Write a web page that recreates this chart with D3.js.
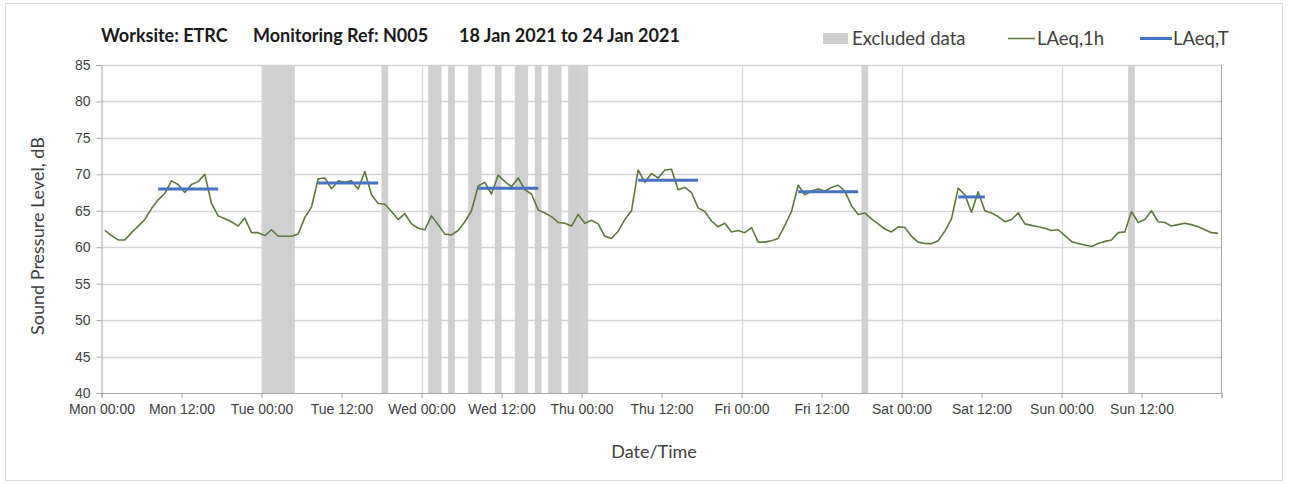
<!DOCTYPE html>
<html><head><meta charset="utf-8">
<script src="https://cdn.jsdelivr.net/npm/d3@7"></script>
<style>body{margin:0;background:#fff}svg{display:block;font-family:Lato,"Open Sans",sans-serif}</style>
</head><body><svg id="c" width="1290" height="484"></svg>
<script>
const tickLabels=["Mon 00:00","Mon 12:00","Tue 00:00","Tue 12:00","Wed 00:00","Wed 12:00","Thu 00:00","Thu 12:00","Fri 00:00","Fri 12:00","Sat 00:00","Sat 12:00","Sun 00:00","Sun 12:00"];
const yTicks=[40,45,50,55,60,65,70,75,80,85];
const laeq1h=[62.3,61.6,61.0,61.0,62.0,62.9,63.8,65.3,66.5,67.4,69.1,68.6,67.5,68.6,69.0,70.0,66.0,64.3,63.9,63.5,62.9,64.0,62.0,62.0,
61.6,62.4,61.5,61.5,61.5,61.8,64.1,65.5,69.4,69.5,68.0,69.1,68.9,69.1,68.0,70.4,67.2,66.0,65.9,64.9,63.8,64.6,63.2,62.6,
62.4,64.3,63.1,61.8,61.7,62.3,63.5,65.0,68.4,68.9,67.3,69.9,69.0,68.3,69.5,67.9,67.3,65.1,64.7,64.2,63.4,63.3,62.9,64.5,
63.3,63.7,63.2,61.5,61.2,62.2,63.8,65.0,70.6,68.9,70.1,69.5,70.6,70.7,67.9,68.2,67.5,65.4,64.9,63.6,62.8,63.3,62.1,62.3,
62.0,62.7,60.7,60.7,60.9,61.2,63.0,64.9,68.5,67.2,67.7,68.0,67.7,68.2,68.5,67.7,65.7,64.5,64.7,63.9,63.2,62.5,62.1,62.8,
62.7,61.5,60.7,60.5,60.5,60.9,62.2,63.9,68.1,67.2,64.8,67.6,65.0,64.7,64.2,63.5,63.8,64.7,63.2,63.0,62.8,62.6,62.3,62.4,
61.6,60.8,60.5,60.3,60.1,60.5,60.8,61.0,62.0,62.1,64.9,63.4,63.8,65.0,63.5,63.4,62.9,63.1,63.3,63.1,62.8,62.4,62.0,61.9];
const exclStart=[24,42,49,52,55,59,62,65,67,70,114,154];
const exclEnd=[29,43,51,53,57,60,64,66,69,73,115,155];
const tStart=[8,32,56,80,104,128];
const tEnd=[17,41,65,89,113,132];
const tValue=[68.0,68.8,68.1,69.2,67.6,66.9];

const svg=d3.select("#c");
const L=101.5,R=1221.5,T=65,B=393;
const x=d3.scaleLinear().domain([0,168]).range([L,R]);
const y=d3.scaleLinear().domain([40,85]).range([B,T]);

svg.append("rect").attr("x",5.5).attr("y",3.5).attr("width",1277).attr("height",477)
  .attr("fill","none").attr("stroke","#d9d9d9");

// excluded bands
svg.append("g").selectAll("rect").data(exclStart).join("rect")
  .attr("x",(d)=>x(d)).attr("width",(d,i)=>x(exclEnd[i])-x(d))
  .attr("y",T).attr("height",B-T).attr("fill","#d0d0d0");

// gridlines
svg.append("g").selectAll("line").data(yTicks.filter(v=>v>40)).join("line")
  .attr("x1",L).attr("x2",R).attr("y1",d=>Math.round(y(d))+0.5).attr("y2",d=>Math.round(y(d))+0.5)
  .attr("stroke","#cfcfcf").attr("stroke-opacity",0.9).attr("stroke-width",1.5);
svg.append("g").selectAll("line").data(d3.range(24,168,24)).join("line")
  .attr("y1",T).attr("y2",B).attr("x1",d=>Math.round(x(d))+0.5).attr("x2",d=>Math.round(x(d))+0.5)
  .attr("stroke","#d9d9d9").attr("stroke-opacity",0.9).attr("stroke-width",1.3);
// right border
svg.append("line").attr("x1",R).attr("x2",R).attr("y1",T).attr("y2",B).attr("stroke","#a6a6a6");

// axes
const yAxis=d3.axisLeft(y).tickValues(yTicks).tickSize(5).tickPadding(6);
const gy=svg.append("g").attr("transform",`translate(${L},0)`).call(yAxis);
gy.select(".domain").attr("stroke","#a6a6a6");
gy.selectAll(".tick line").attr("stroke","#a6a6a6");
gy.selectAll("text").attr("font-size",14).attr("fill","#404040");

const xAxis=d3.axisBottom(x).tickValues(d3.range(0,169,12)).tickSize(5).tickPadding(6)
  .tickFormat((d,i)=>tickLabels[i]||"");
const gx=svg.append("g").attr("transform",`translate(0,${B})`).call(xAxis);
gx.select(".domain").attr("stroke","#a6a6a6");
gx.selectAll(".tick line").attr("stroke","#a6a6a6");
gx.selectAll("text").attr("font-size",14).attr("fill","#404040");

// line
const line=d3.line().x((d,i)=>x(i+0.5)).y(d=>y(d));
svg.append("path").datum(laeq1h).attr("d",line).attr("fill","none")
  .attr("stroke","#5a7a3c").attr("stroke-width",1.6).attr("stroke-linejoin","round");

// LAeq,T
svg.append("g").selectAll("line").data(tValue).join("line")
  .attr("x1",(d,i)=>x(tStart[i]+0.5)).attr("x2",(d,i)=>x(tEnd[i]+0.5))
  .attr("y1",d=>y(d)).attr("y2",d=>y(d)).attr("stroke","#4472c4").attr("stroke-width",3);

// titles
const title=svg.append("g").attr("font-weight","bold").attr("font-size",18).attr("fill","#1a1a1a");
title.append("text").attr("x",101).attr("y",42).text("Worksite: ETRC");
title.append("text").attr("x",253).attr("y",42).text("Monitoring Ref: N005");
title.append("text").attr("x",459).attr("y",42).text("18 Jan 2021 to 24 Jan 2021");

svg.append("text").attr("x",654).attr("y",458).attr("text-anchor","middle")
  .attr("font-size",18).attr("fill","#404040").text("Date/Time");
svg.append("text").attr("transform","translate(44,236) rotate(-90)").attr("text-anchor","middle")
  .attr("font-size",18).attr("fill","#404040").text("Sound Pressure Level, dB");

// legend
const lg=svg.append("g").attr("font-size",18.5).attr("fill","#404040");
lg.append("rect").attr("x",823).attr("y",33).attr("width",25).attr("height",11).attr("fill","#d0d0d0");
lg.append("text").attr("x",852).attr("y",45).text("Excluded data");
lg.append("line").attr("x1",1008).attr("x2",1035).attr("y1",38.5).attr("y2",38.5).attr("stroke","#5a7a3c").attr("stroke-width",1.6);
lg.append("text").attr("x",1037).attr("y",45).text("LAeq,1h");
lg.append("line").attr("x1",1140).attr("x2",1172).attr("y1",38.5).attr("y2",38.5).attr("stroke","#4472c4").attr("stroke-width",3);
lg.append("text").attr("x",1173).attr("y",45).text("LAeq,T");
</script></body></html>
